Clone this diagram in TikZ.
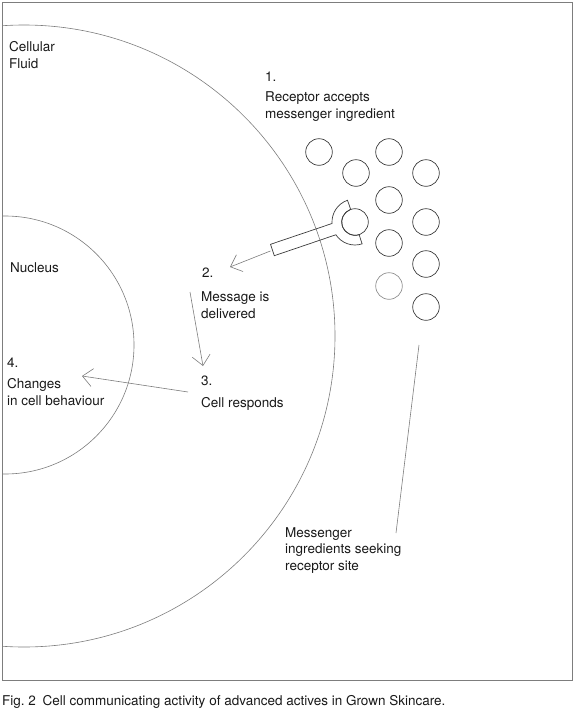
\documentclass[tikz,border=0pt]{standalone}
\usepackage{fontspec}
\setmainfont{TeX Gyre Heros}
\usepackage{tikz}
\usetikzlibrary{arrows.meta, calc}
\definecolor{linegray}{RGB}{125,125,125}
\definecolor{ringgray}{RGB}{60,60,60}
\definecolor{palegray}{RGB}{145,145,145}
\definecolor{textgray}{RGB}{25,25,25}
\tikzset{
  label/.style={anchor=base west, inner sep=0pt, align=left, text=textgray,
    font=\fontsize{13.5}{16.5}\selectfont},
  thin line/.style={draw=linegray, line width=0.6pt},
  pointer/.style={thin line, -{Straight Barb[length=10pt, width=18pt, line width=0.6pt]}},
  ligand/.style={draw=ringgray, line width=0.7pt}
}
\begin{document}
\begin{tikzpicture}[x=1pt, y=-1pt]
  \useasboundingbox (0,0) rectangle (575,720);
  %% 1. Frame and membranes
  \draw[thin line] (2,2) rectangle (572,680);
  \begin{scope}
    \clip (2,2) rectangle (572,680);
    \draw[thin line] (24,336) circle[radius=311];
    \draw[thin line] (5,345) circle[radius=129];
  \end{scope}
  %% 2. Messenger ingredients
  \foreach \x/\y in {319/152, 356/173, 389/152, 426/173, 389/200,
                     426/222, 389/243, 426/264, 426/307}
    \draw[ligand] (\x,\y) circle[radius=13.3];
  \draw[ligand, draw=palegray] (389,286) circle[radius=13.3];
  %% 3. Receptor
  \coordinate (rc) at (355,222);
  \draw[ligand] (rc) circle[radius=13.3];
  \begin{scope}[shift={(355,222)}]
    \draw[ligand] (-109:23) arc[start angle=-109, end angle=-183.7, radius=23]
      -- ++(161.3:65) coordinate (stemtop) -- ++(71.3:12) coordinate (stembot)
      -- (-213.7:23) arc[start angle=-213.7, end angle=-288, radius=23]
      -- (-288:13.3) arc[start angle=-288, end angle=-109, radius=13.3] -- cycle;
  \end{scope}
  \coordinate (stemend) at ($(stemtop)!0.5!(stembot)$);
  %% 4. Labels (base = last line)
  \node[label] (fluid) at (9,68) {Cellular\\Fluid};
  \node[label] (num1) at (265,81) {1.};
  \node[label] (accepts) at (265,118) {Receptor accepts\\messenger ingredient};
  \node[label] (nucleus) at (10,272) {Nucleus};
  \node[label] (num2) at (202,277) {2.};
  \node[label] (delivered) at (201,318) {Message is\\delivered};
  \node[label] (num3) at (201,385) {3.};
  \node[label] (responds) at (201,407) {Cell responds};
  \node[label] (num4) at (7,367) {4.};
  \node[label] (changes) at (7,405) {Changes\\in cell behaviour};
  \node[label] (seeking) at (285,570) {Messenger\\ingredients seeking\\receptor site};
  \node[label] (caption) at (2,705) {Fig.~2\enspace Cell communicating activity of advanced actives in Grown Skincare.};
  %% 5. Arrows
  \coordinate (tip2) at (230,267);
  \coordinate (from2) at (190,292);
  \coordinate (tip3) at (203,366);
  \coordinate (from3) at (188,392);
  \coordinate (tip4) at (82,376);
  \coordinate (cluster) at (419,345);
  \coordinate (pin) at (396,533);
  \draw[pointer] ($(stemend)+(-2,1)$) -- (tip2);
  \draw[pointer] (from2) -- (tip3);
  \draw[pointer] (from3) -- (tip4);
  \draw[thin line] (cluster) -- (pin);
\end{tikzpicture}
\end{document}
